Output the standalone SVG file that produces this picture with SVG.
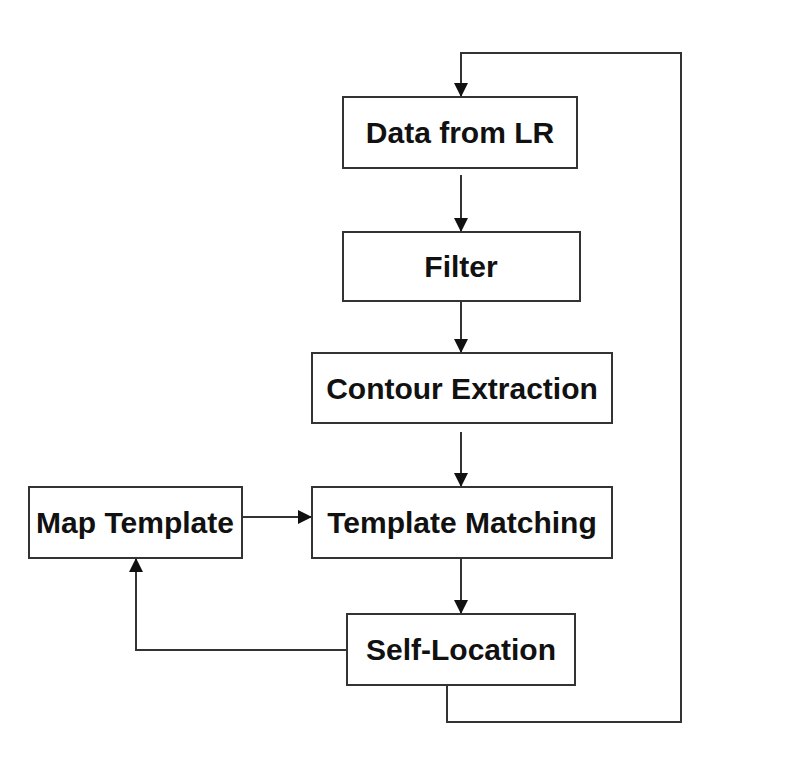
<svg xmlns="http://www.w3.org/2000/svg" width="800" height="763" viewBox="0 0 800 763">
<defs>
<marker id="ah" markerWidth="14" markerHeight="14" refX="14" refY="7" orient="auto" markerUnits="userSpaceOnUse">
<path d="M0,0 L14,7 L0,14 Z" fill="#111"/>
</marker>
<style>
.box{fill:#fff;stroke:#333;stroke-width:2}
.lbl{font-family:"Liberation Sans",Arial,sans-serif;font-weight:bold;font-size:30px;fill:#111;text-anchor:middle}
.con{fill:none;stroke:#333;stroke-width:2}
</style>
</defs>
<rect width="800" height="763" fill="#fff"/>
<g id="connectors">
<path class="con" d="M447,685 V722 H681 V53 H461 V97" marker-end="url(#ah)"/>
<path class="con" d="M461,175 V232" marker-end="url(#ah)"/>
<path class="con" d="M461,301 V353" marker-end="url(#ah)"/>
<path class="con" d="M461,432 V487" marker-end="url(#ah)"/>
<path class="con" d="M461,558 V614" marker-end="url(#ah)"/>
<path class="con" d="M242,517 H312" marker-end="url(#ah)"/>
<path class="con" d="M347,650 H136 V558" marker-end="url(#ah)"/>
</g>
<g id="data-from-lr">
<rect class="box" x="343" y="97" width="234" height="71"/>
<text class="lbl" x="460" y="143">Data from LR</text>
</g>
<g id="filter">
<rect class="box" x="343" y="232" width="237" height="69"/>
<text class="lbl" x="461" y="277">Filter</text>
</g>
<g id="contour-extraction">
<rect class="box" x="312" y="353" width="300" height="70"/>
<text class="lbl" x="462" y="399">Contour Extraction</text>
</g>
<g id="template-matching">
<rect class="box" x="312" y="487" width="300" height="71"/>
<text class="lbl" x="462" y="533">Template Matching</text>
</g>
<g id="map-template">
<rect class="box" x="29" y="487" width="213" height="71"/>
<text class="lbl" x="135" y="533">Map Template</text>
</g>
<g id="self-location">
<rect class="box" x="347" y="614" width="228" height="71"/>
<text class="lbl" x="461" y="660">Self-Location</text>
</g>
</svg>
